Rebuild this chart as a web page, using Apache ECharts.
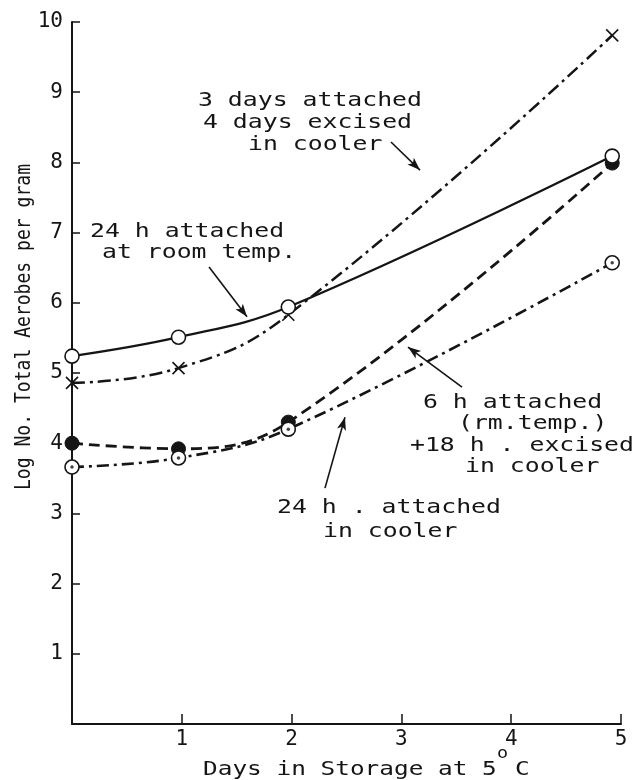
<!DOCTYPE html>
<html>
<head>
<meta charset="utf-8">
<script src="https://cdn.jsdelivr.net/npm/echarts@6/dist/echarts.min.js"></script>
<style>html,body{margin:0;padding:0;background:#fff}#c{width:639px;height:780px}</style>
</head>
<body>
<div id="c"></div>
<script>
// ---- data ----
const days = [0, 0.97, 1.97, 4.92];
const roomTemp24h = [5.24, 5.51, 5.94, 8.09];          // solid, open circles
const attached3Excised4 = [4.86, 5.07, 5.83, 9.81];    // dash-dot, crosses
const attached6Excised18 = [4.00, 3.92, 4.30, 7.99];   // dashed, filled circles
const cooler24h = [3.66, 3.79, 4.20, 6.57];            // dash-dot, dotted circles
const xTicks = [1, 2, 3, 4, 5];
const yTicks = [1, 2, 3, 4, 5, 6, 7, 8, 9, 10];

const labelA = ['24 h attached', 'at room temp.'];
const labelB = ['3 days attached', '4 days excised', 'in cooler'];
const labelC = ['6 h attached', '(rm.temp.)', '+18 h . excised', 'in cooler'];
const labelD = ['24 h . attached', 'in cooler'];
const xName = ['Days in Storage at 5', 'o', 'C'];
const yName = 'Log No. Total Aerobes per gram';

// arrows (data coordinates: [fromX, fromY, toX, toY])
const arrows = [
  [1.248, 6.51, 1.594, 5.80],
  [2.905, 8.29, 3.169, 7.89],
  [3.552, 4.80, 3.060, 5.37],
  [2.304, 3.36, 2.486, 4.37]
];

const pair = (ys) => days.map((d, i) => [d, ys[i]]);
const INK = '#151515';
const MONO = '"DejaVu Sans Mono", "Liberation Mono", monospace';

const chart = echarts.init(document.getElementById('c'), null, {renderer: 'canvas'});

function txt(str, x, y, opts) {
  opts = opts || {};
  return {
    type: 'text', x: x, y: y, scaleX: opts.scaleX || 1.24, rotation: opts.rotation || 0,
    style: {
      text: str, font: (opts.size || 20) + 'px ' + MONO, fill: INK,
      textAlign: opts.align || 'left', textVerticalAlign: 'middle'
    },
    silent: true
  };
}

const graphics = [];
const posA = [[90, 232], [102, 253]];
labelA.forEach((s, i) => graphics.push(txt(s, posA[i][0], posA[i][1])));
const posB = [[198, 101], [203, 123], [248, 145]];
labelB.forEach((s, i) => graphics.push(txt(s, posB[i][0], posB[i][1])));
const posC = [[423, 403], [458, 424], [410, 446], [465, 467]];
labelC.forEach((s, i) => graphics.push(txt(s, posC[i][0], posC[i][1])));
const posD = [[277, 508], [323, 532]];
labelD.forEach((s, i) => graphics.push(txt(s, posD[i][0], posD[i][1])));
graphics.push(txt(xName[0], 203, 770, {scaleX: 1.22}));
graphics.push(txt(xName[1], 497, 754, {size: 16, scaleX: 1.15}));
graphics.push(txt(xName[2], 515, 770, {scaleX: 1.22}));
graphics.push(txt(yName, 25, 327, {size: 21, scaleX: 0.86, rotation: Math.PI / 2, align: 'center'}));

const option = {
  animation: false,
  backgroundColor: '#fff',
  grid: {left: 72, right: 18, top: 22, bottom: 56, containLabel: false},
  xAxis: {
    type: 'value', min: 0, max: 5, interval: 1,
    axisLine: {show: true, lineStyle: {color: INK, width: 2}},
    axisTick: {show: true, inside: true, length: 10, lineStyle: {color: INK, width: 1.5}},
    axisLabel: {
      margin: 5, color: INK, fontFamily: MONO, fontSize: 21,
      formatter: v => (xTicks.indexOf(v) >= 0 ? String(v) : '')
    },
    splitLine: {show: false}
  },
  yAxis: {
    type: 'value', min: 0, max: 10, interval: 1,
    axisLine: {show: true, lineStyle: {color: INK, width: 2}},
    axisTick: {show: true, inside: true, length: 8, lineStyle: {color: INK, width: 1.5}},
    axisLabel: {
      margin: 9, color: INK, fontFamily: MONO, fontSize: 21,
      formatter: v => (yTicks.indexOf(v) >= 0 ? String(v) : '')
    },
    splitLine: {show: false}
  },
  graphic: graphics,
  series: [
    {
      name: '6 h attached + 18 h excised', type: 'line', z: 3,
      data: pair(attached6Excised18), smooth: 0.4,
      symbol: 'circle', symbolSize: 14,
      itemStyle: {color: INK, borderColor: INK, borderWidth: 1},
      lineStyle: {color: INK, width: 2.8, type: [11, 6]}
    },
    {
      name: '24 h attached in cooler', type: 'line', z: 4,
      data: pair(cooler24h), smooth: 0.4,
      symbol: 'circle', symbolSize: 14,
      itemStyle: {color: '#fff', borderColor: INK, borderWidth: 1.6},
      lineStyle: {color: INK, width: 2.6, type: [12, 5, 3, 5]}
    },
    {
      name: 'dots', type: 'scatter', z: 6,
      data: pair(cooler24h), symbol: 'circle', symbolSize: 3.5,
      itemStyle: {color: INK}
    },
    {
      name: '3 days attached 4 days excised', type: 'line', z: 4,
      data: pair(attached3Excised4), smooth: 0.45,
      symbol: 'path://M0,0L10,10M10,0L0,10', symbolSize: 12,
      itemStyle: {color: INK, borderColor: INK, borderWidth: 1.6},
      lineStyle: {color: INK, width: 2.5, type: [13, 5, 3, 5]}
    },
    {
      name: '24 h attached at room temp.', type: 'line', z: 5,
      data: pair(roomTemp24h), smooth: 0.4,
      symbol: 'circle', symbolSize: 14,
      itemStyle: {color: '#fff', borderColor: INK, borderWidth: 1.6},
      lineStyle: {color: INK, width: 2.3, type: 'solid'},
      markLine: {
        silent: true, animation: false,
        symbol: ['none', 'arrow'], symbolSize: [7, 13],
        label: {show: false},
        lineStyle: {color: INK, width: 1.6, type: 'solid'},
        data: arrows.map(a => [{coord: [a[0], a[1]]}, {coord: [a[2], a[3]]}])
      }
    }
  ]
};
chart.setOption(option);
</script>
</body>
</html>
